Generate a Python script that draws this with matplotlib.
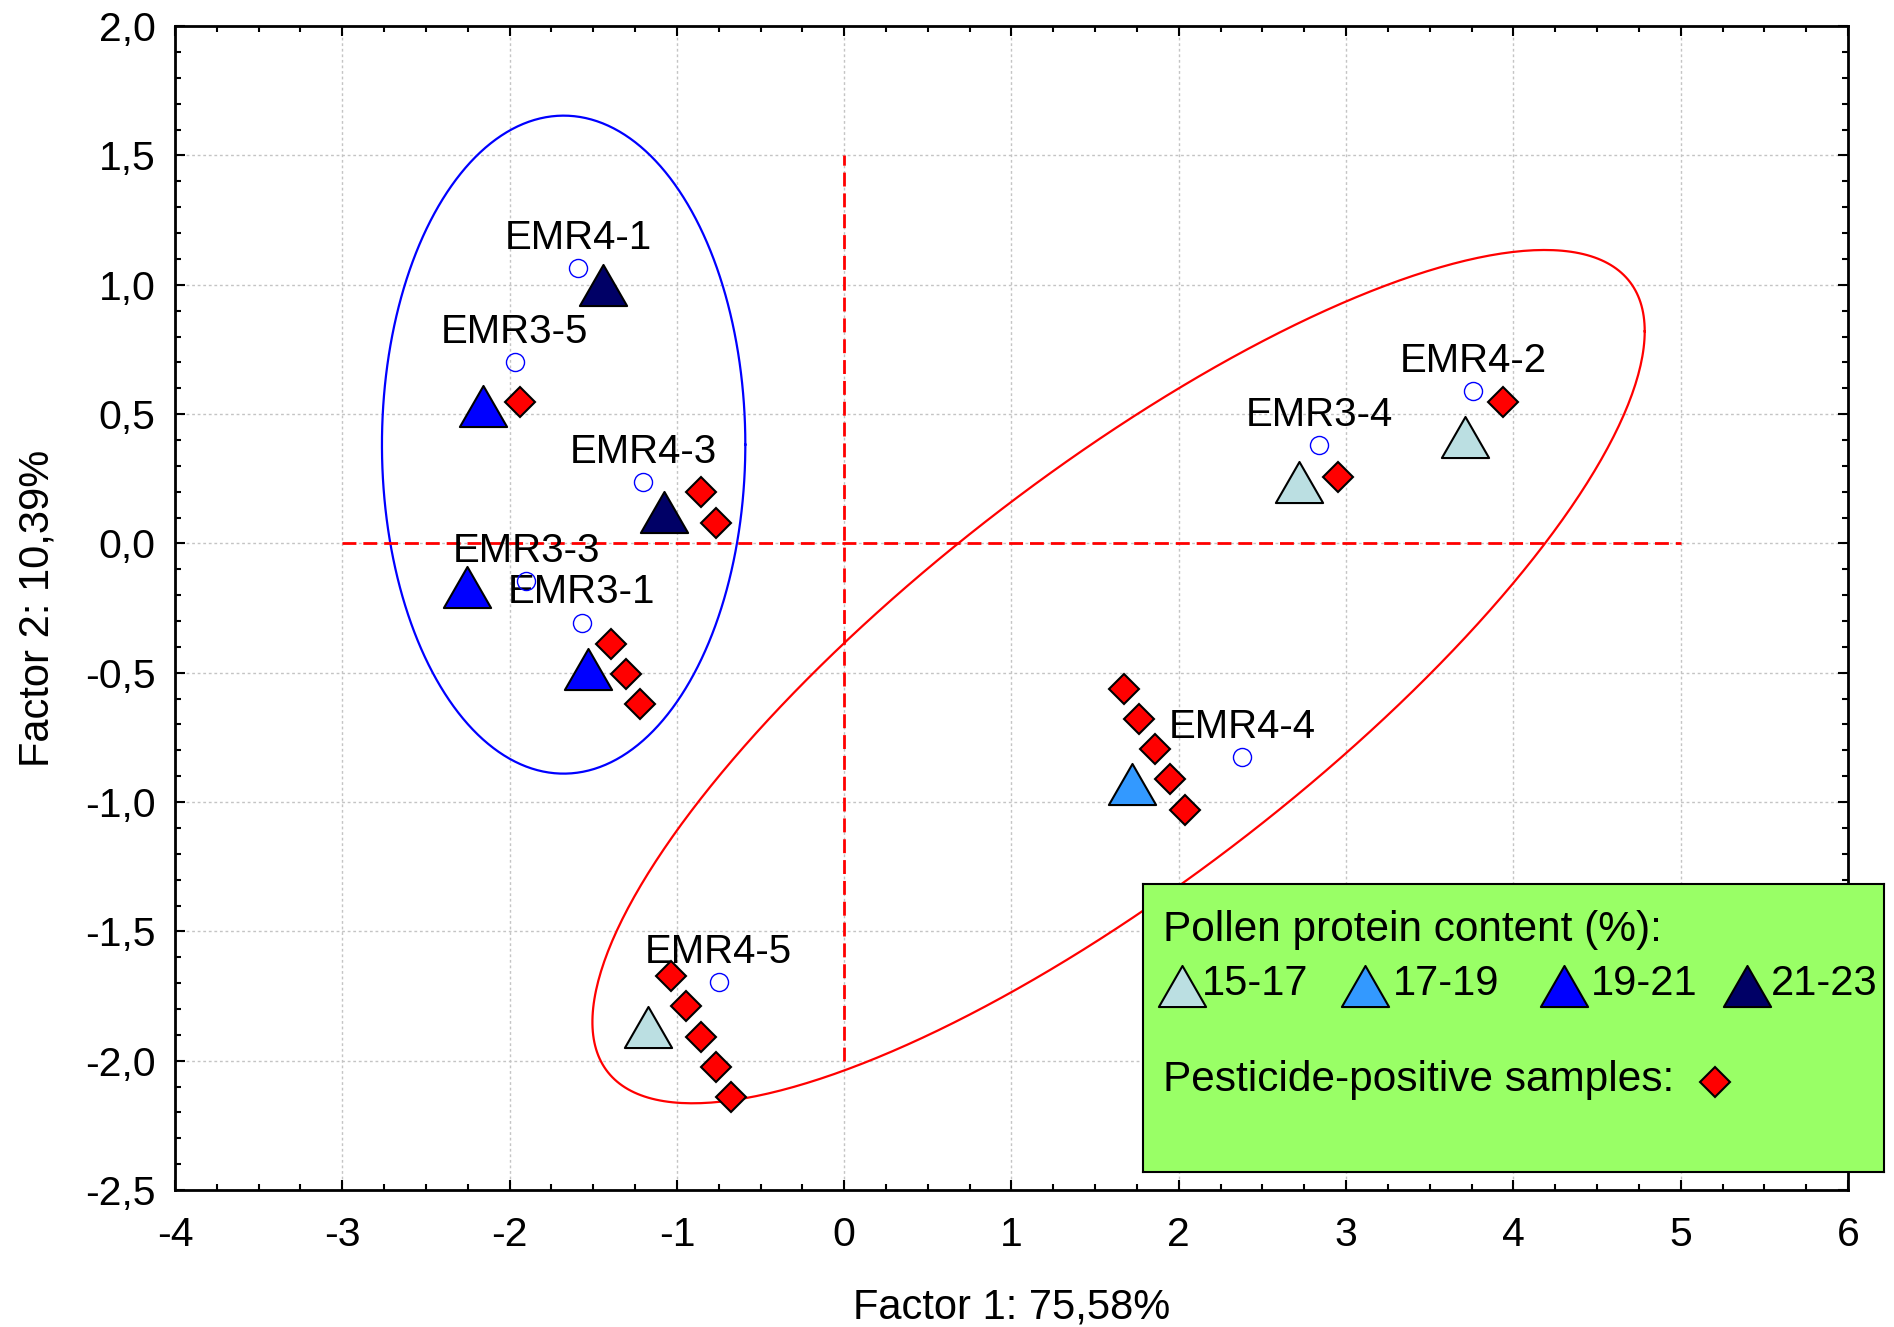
import numpy as np
import matplotlib
matplotlib.use("Agg")
import matplotlib.pyplot as plt
from matplotlib.path import Path
from matplotlib.ticker import MultipleLocator, FuncFormatter

plt.rcParams['font.family'] = ['Liberation Sans', 'DejaVu Sans']
plt.rcParams['axes.unicode_minus'] = False

# sample labels and the open circle each label sits on
labels = ["EMR4-1", "EMR3-5", "EMR4-3", "EMR3-3", "EMR3-1", "EMR3-4", "EMR4-2", "EMR4-4", "EMR4-5"]
label_x = [-1.59, -1.97, -1.20, -1.90, -1.57, 2.84, 3.76, 2.38, -0.75]
label_y = [1.063, 0.70, 0.236, -0.147, -0.307, 0.38, 0.588, -0.826, -1.696]

# pollen protein triangles (class index into protein_classes)
tri_x = [-1.44, -2.16, -1.08, -2.255, -1.532, 2.72, 3.712, 1.723, -1.17]
tri_y = [1.0, 0.53, 0.121, -0.170, -0.487, 0.236, 0.413, -0.932, -1.868]
tri_class = [3, 2, 3, 2, 2, 0, 0, 1, 0]
protein_classes = ["15-17", "17-19", "19-21", "21-23"]
protein_colors = ["#BBDFE2", "#3399FF", "#0000FF", "#000066"]

# pesticide-positive samples
pest_x = [-1.94, -0.855, -0.765, -1.395, -1.305, -1.218, 2.95, 3.935,
          1.675, 1.765, 1.859, 1.949, 2.038,
          -1.034, -0.944, -0.855, -0.765, -0.674]
pest_y = [0.548, 0.198, 0.08, -0.388, -0.505, -0.621, 0.255, 0.546,
          -0.562, -0.678, -0.795, -0.912, -1.031,
          -1.673, -1.789, -1.907, -2.024, -2.140]

# group ellipses
blue_center = (-1.677, 0.382)
blue_half = (1.086, 1.272)
red_center = (1.64, -0.515)
red_cov = [[9.891, 4.2], [4.2, 2.721]]

# wider than tall triangle marker
tri_marker = Path([(-1, -0.87), (1, -0.87), (0, 0.87), (-1, -0.87)], closed=True)

fig = plt.figure(figsize=(18.94, 13.27), dpi=100)
ax = fig.add_axes([0.0924, 0.1032, 0.8833, 0.8771])

ax.set_xlim(-4, 6)
ax.set_ylim(-2.5, 2.0)
ax.xaxis.set_major_locator(MultipleLocator(1))
ax.xaxis.set_minor_locator(MultipleLocator(0.25))
ax.yaxis.set_major_locator(MultipleLocator(0.5))
ax.yaxis.set_minor_locator(MultipleLocator(0.1))
ax.xaxis.set_major_formatter(FuncFormatter(lambda v, p: "%d" % round(v)))
ax.yaxis.set_major_formatter(FuncFormatter(lambda v, p: ("%.1f" % v).replace(".", ",")))
ax.tick_params(which='both', direction='in', top=True, right=True, width=1.5, labelsize=29.5)
ax.tick_params(which='major', length=7)
ax.tick_params(which='minor', length=4)
ax.tick_params(axis='x', pad=19)
ax.tick_params(axis='y', pad=14)
for s in ax.spines.values():
    s.set_linewidth(2)
ax.grid(True, which='major', color='#c4c4c4', linestyle=(0, (2, 2)), linewidth=1)
ax.set_axisbelow(True)

ax.set_xlabel("Factor 1: 75,58%", fontsize=30, labelpad=24)
ax.set_ylabel("Factor 2: 10,39%", fontsize=30, labelpad=20)

# ellipses
t = np.linspace(0, 2 * np.pi, 400)
ax.plot(blue_center[0] + blue_half[0] * np.cos(t), blue_center[1] + blue_half[1] * np.sin(t),
        color='#0000FF', lw=1.6, zorder=2)
L = np.linalg.cholesky(np.array(red_cov))
pts = L @ np.vstack([np.cos(t), np.sin(t)])
ax.plot(red_center[0] + pts[0], red_center[1] + pts[1], color='#FF0000', lw=1.6, zorder=2)

# quadrant lines
ax.plot([-3, 5], [0, 0], color='#FF0000', lw=2, linestyle=(0, (5, 2.5)), zorder=2)
ax.plot([0, 0], [-2, 1.5], color='#FF0000', lw=2, linestyle=(0, (5, 2.5)), zorder=2)

# markers
for i in range(len(protein_classes)):
    xs = [tri_x[j] for j in range(len(tri_x)) if tri_class[j] == i]
    ys = [tri_y[j] for j in range(len(tri_y)) if tri_class[j] == i]
    ax.plot(xs, ys, linestyle='none', marker=tri_marker, markersize=34,
            markerfacecolor=protein_colors[i], markeredgecolor='black', markeredgewidth=1.5, zorder=4)

ax.plot(pest_x, pest_y, linestyle='none', marker='D', markersize=15.5,
        markerfacecolor='#FF0000', markeredgecolor='black', markeredgewidth=1.5, zorder=5)

ax.plot(label_x, label_y, linestyle='none', marker='o', markersize=13,
        markerfacecolor='none', markeredgecolor='#0000FF', markeredgewidth=1, zorder=5)

for lab, x, y in zip(labels, label_x, label_y):
    ax.annotate(lab, (x, y), xytext=(0, 14), textcoords='offset points',
                ha='center', va='baseline', fontsize=29, zorder=3)

# legend box
leg = fig.add_axes([0.6035, 0.1168, 0.3912, 0.2170])
leg.set_facecolor('#99FF66')
leg.set_xlim(0, 1)
leg.set_ylim(0, 1)
leg.set_xticks([])
leg.set_yticks([])
for s in leg.spines.values():
    s.set_linewidth(1.5)
leg.text(0.027, 0.802, "Pollen protein content (%):", fontsize=30.5, va='baseline')
tri_leg_x = [0.052, 0.300, 0.568, 0.815]
txt_leg_x = [0.080, 0.337, 0.605, 0.848]
for i in range(len(protein_classes)):
    leg.plot([tri_leg_x[i]], [0.646], linestyle='none', marker=tri_marker, markersize=34,
             markerfacecolor=protein_colors[i], markeredgecolor='black', markeredgewidth=1.5)
    leg.text(txt_leg_x[i], 0.615, protein_classes[i], fontsize=30, va='baseline')
leg.text(0.027, 0.282, "Pesticide-positive samples:", fontsize=30.5, va='baseline')
leg.plot([0.772], [0.3125], linestyle='none', marker='D', markersize=15.5,
         markerfacecolor='#FF0000', markeredgecolor='black', markeredgewidth=1.5)

fig.savefig("out.png", dpi=100)
